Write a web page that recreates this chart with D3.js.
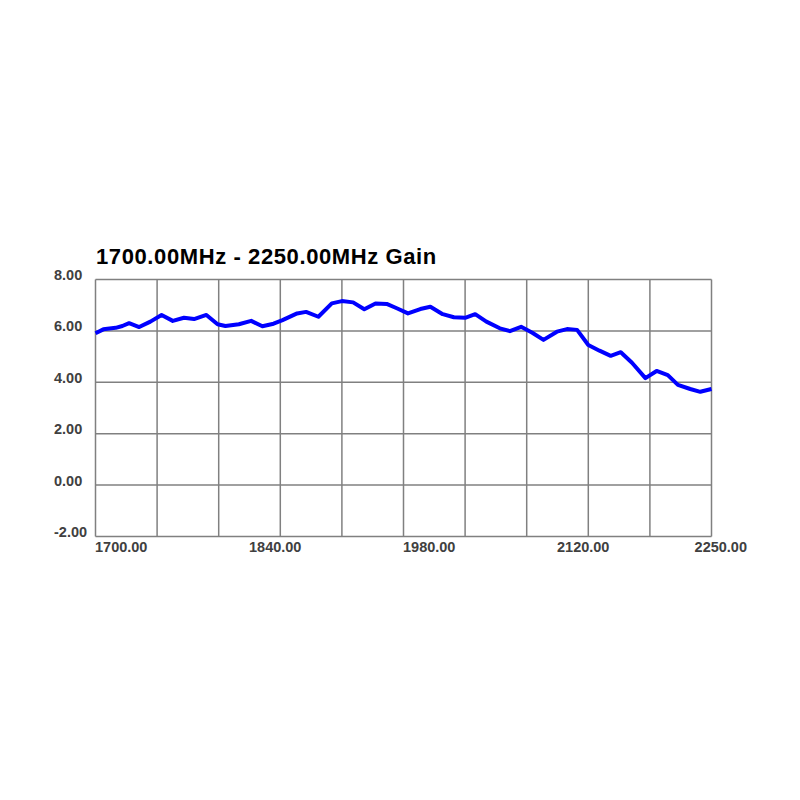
<!DOCTYPE html>
<html>
<head>
<meta charset="utf-8">
<script src="https://cdn.jsdelivr.net/npm/d3@7"></script>
<style>
	body { margin: 0; background: #fff; }
	svg text { font-family: "Liberation Sans", Arial, sans-serif; font-weight: bold; }
</style>
</head>
<body>
<div id="chart"></div>
<script>
// gain curve
var freqs = [1700, 1707, 1718, 1724, 1730, 1739, 1749, 1759, 1769, 1779, 1788, 1799,
	1809, 1816, 1828, 1839, 1849, 1859, 1867, 1880, 1888, 1899, 1911, 1920, 1930,
	1940, 1950, 1960, 1969, 1979, 1990, 1999, 2010, 2020, 2030, 2039, 2049, 2061,
	2070, 2080, 2090, 2100, 2112, 2121, 2130, 2140, 2150, 2160, 2169, 2179, 2191,
	2201, 2211, 2220, 2231, 2240, 2250];
var gains = [5.91, 6.06, 6.12, 6.19, 6.30, 6.15, 6.36, 6.62, 6.39, 6.51, 6.46, 6.62,
	6.26, 6.19, 6.26, 6.39, 6.18, 6.28, 6.42, 6.68, 6.74, 6.55, 7.07, 7.16, 7.11,
	6.84, 7.07, 7.05, 6.88, 6.68, 6.85, 6.94, 6.65, 6.53, 6.51, 6.65, 6.36, 6.10,
	5.99, 6.16, 5.93, 5.65, 5.97, 6.07, 6.04, 5.45, 5.23, 5.03, 5.17, 4.76, 4.16,
	4.44, 4.28, 3.90, 3.74, 3.63, 3.74];

var yTicks = [8, 6, 4, 2, 0, -2];
var xTickLabels = ["1700.00", "1840.00", "1980.00", "2120.00", "2250.00"];
var titleText = "1700.00MHz - 2250.00MHz Gain";

var W = 800, H = 800;
var margin = {top: 279.5, left: 95.5, right: 88.5, bottom: 263.5};
var plotW = W - margin.left - margin.right;
var plotH = H - margin.top - margin.bottom;

var GRID_COLOR = "#808080";
var LABEL_COLOR = "#404040";

var svg = d3.select("#chart").append("svg")
	.attr("width", W)
	.attr("height", H);

var x = d3.scaleLinear().domain([1700, 2250]).range([0, plotW]);
var y = d3.scaleLinear().domain([-2, 8]).range([plotH, 0]);

svg.append("text")
	.attr("x", 96)
	.attr("y", 264)
	.attr("font-size", "22px")
	.attr("letter-spacing", "0.6px")
	.attr("fill", "#000")
	.text(titleText);

var g = svg.append("g")
	.attr("transform", "translate(" + margin.left + "," + margin.top + ")");

// vertical grid every 55 MHz
g.append("g").selectAll("line")
	.data(d3.range(0, 11).map(function(i) { return 1700 + i * 55; }))
	.enter().append("line")
	.attr("x1", function(d) { return x(d); })
	.attr("x2", function(d) { return x(d); })
	.attr("y1", 0)
	.attr("y2", plotH)
	.attr("stroke", GRID_COLOR)
	.attr("stroke-width", 1.5);

g.append("g").selectAll("line")
	.data(yTicks)
	.enter().append("line")
	.attr("x1", 0)
	.attr("x2", plotW)
	.attr("y1", function(d) { return y(d); })
	.attr("y2", function(d) { return y(d); })
	.attr("stroke", GRID_COLOR)
	.attr("stroke-width", 1.5);

// y labels, left aligned
svg.append("g").selectAll("text")
	.data(yTicks)
	.enter().append("text")
	.attr("x", 54)
	.attr("y", function(d) { return margin.top + y(d) + 0.5; })
	.attr("font-size", "14.5px")
	.attr("fill", LABEL_COLOR)
	.text(function(d) { return d.toFixed(2); });

// x labels sit at quarters of the range
var xd = x.domain();
svg.append("g").selectAll("text")
	.data(xTickLabels)
	.enter().append("text")
	.attr("x", function(d, i) {
		var px = margin.left + x(xd[0] + i * (xd[1] - xd[0]) / 4);
		return i == xTickLabels.length - 1 ? px + 35.5 : px - 0.5;
	})
	.attr("y", margin.top + plotH + 15.5)
	.attr("text-anchor", function(d, i) { return i == xTickLabels.length - 1 ? "end" : "start"; })
	.attr("font-size", "14.5px")
	.attr("fill", LABEL_COLOR)
	.text(function(d) { return d; });

var line = d3.line()
	.x(function(d, i) { return x(freqs[i]); })
	.y(function(d) { return y(d); });

g.append("path")
	.datum(gains)
	.attr("d", line)
	.attr("fill", "none")
	.attr("stroke", "#0000ff")
	.attr("stroke-width", 4)
	.attr("stroke-linejoin", "round");
</script>
</body>
</html>
